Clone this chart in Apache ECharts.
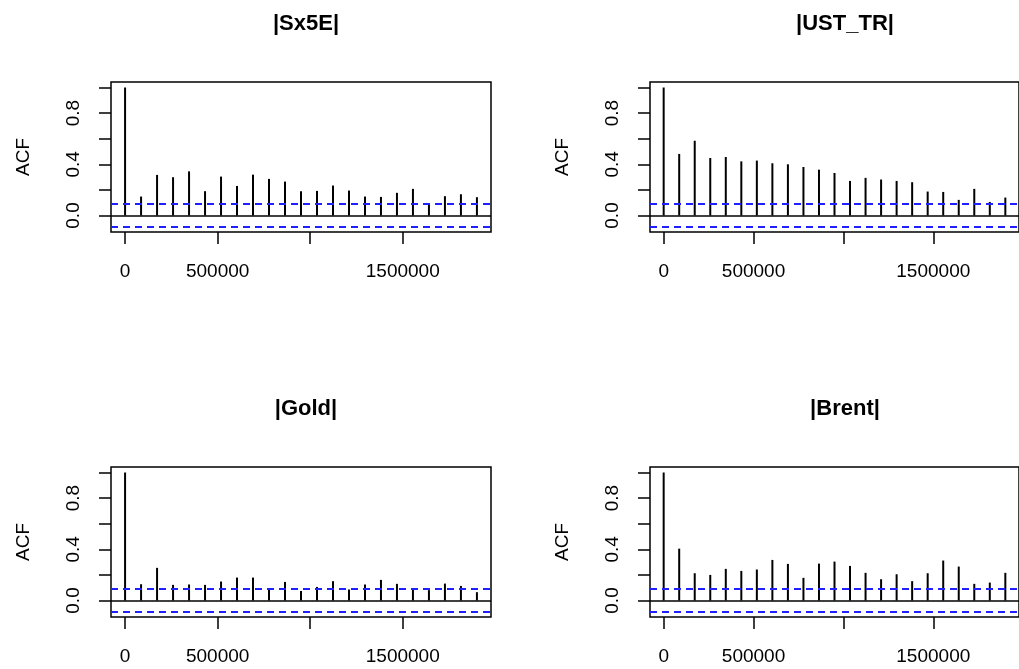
<!DOCTYPE html>
<html>
<head>
<meta charset="utf-8">
<script src="https://cdn.jsdelivr.net/npm/echarts@6/dist/echarts.min.js"></script>
<style>
  html, body { margin: 0; padding: 0; background: #fff; }
  #chart { width: 1019px; height: 669px; }
</style>
</head>
<body>
<div id="chart"></div>
<script>
// lags in seconds (one day = 86400)
const lags = [0, 86400, 172800, 259200, 345600, 432000, 518400, 604800, 691200, 777600,
  864000, 950400, 1036800, 1123200, 1209600, 1296000, 1382400, 1468800, 1555200, 1641600,
  1728000, 1814400, 1900800];

const acfSx5E = [1.0, 0.148, 0.317, 0.299, 0.345, 0.190, 0.304, 0.231, 0.319, 0.286,
  0.265, 0.190, 0.192, 0.234, 0.195, 0.148, 0.145, 0.177, 0.208, 0.091,
  0.151, 0.166, 0.143];
const acfUST = [1.0, 0.481, 0.584, 0.449, 0.457, 0.423, 0.429, 0.408, 0.400, 0.379,
  0.358, 0.332, 0.270, 0.294, 0.281, 0.270, 0.260, 0.187, 0.184, 0.122,
  0.208, 0.106, 0.140];
const acfGold = [1.0, 0.127, 0.255, 0.122, 0.125, 0.122, 0.148, 0.179, 0.179, 0.091,
  0.145, 0.075, 0.106, 0.151, 0.086, 0.125, 0.161, 0.130, 0.083, 0.081,
  0.132, 0.114, 0.065];
const acfBrent = [1.0, 0.405, 0.213, 0.200, 0.247, 0.231, 0.242, 0.317, 0.286, 0.177,
  0.288, 0.304, 0.270, 0.216, 0.166, 0.205, 0.151, 0.213, 0.312, 0.265,
  0.130, 0.140, 0.216];

const ciBound = 0.086;
const xTicks = [0, 500000, 1000000, 1500000];
const xLabels = [0, 500000, 1500000];
const yTicks = [0, 0.2, 0.4, 0.6, 0.8, 1.0];
const yLabels = [0, 0.4, 0.8];

const FONT = '"Liberation Sans", Arial, Helvetica, sans-serif';

const panels = [
  { name: '|Sx5E|', values: acfSx5E, left: 111, top: 82 },
  { name: '|UST_TR|', values: acfUST, left: 650, top: 82 },
  { name: '|Gold|', values: acfGold, left: 111, top: 467 },
  { name: '|Brent|', values: acfBrent, left: 650, top: 467 }
];

const option = {
  animation: false,
  backgroundColor: '#fff',
  title: [], grid: [], xAxis: [], yAxis: [], series: []
};

panels.forEach((p, i) => {
  const w = 380, h = 150;
  option.title.push({
    text: p.name,
    left: p.left + w / 2,
    top: p.top - 74,
    textAlign: 'center',
    textStyle: { fontFamily: FONT, fontSize: 22, fontWeight: 'bold', color: '#000' }
  });
  option.grid.push({
    left: p.left, top: p.top, width: w, height: h,
    show: true, borderColor: '#000', borderWidth: 1.5, backgroundColor: 'transparent'
  });
  option.xAxis.push({
    gridIndex: i, type: 'value',
    min: -76032, max: 1976832,
    axisLine: { show: false, onZero: false },
    splitLine: { show: false },
    axisTick: { show: true, length: 12, customValues: xTicks, lineStyle: { color: '#000', width: 1.5 } },
    axisLabel: {
      customValues: xLabels, margin: 30,
      fontFamily: FONT, fontSize: 19, color: '#000',
      formatter: v => String(v)
    }
  });
  option.yAxis.push({
    gridIndex: i, type: 'value',
    min: -0.129, max: 1.043,
    name: 'ACF', nameLocation: 'middle', nameRotate: 90, nameGap: 78,
    nameTextStyle: { fontFamily: FONT, fontSize: 19, color: '#000' },
    axisLine: { show: false, onZero: false },
    splitLine: { show: false },
    axisTick: { show: true, length: 12, customValues: yTicks, lineStyle: { color: '#000', width: 1.5 } },
    axisLabel: {
      customValues: yLabels, rotate: 90, margin: 28,
      fontFamily: FONT, fontSize: 19, color: '#000',
      formatter: v => v.toFixed(1)
    }
  });
  option.series.push({
    type: 'bar',
    xAxisIndex: i, yAxisIndex: i,
    barWidth: 2,
    itemStyle: { color: '#000' },
    data: lags.map((l, k) => [l, p.values[k]]),
    markLine: {
      silent: true, symbol: 'none', label: { show: false },
      data: [
        { yAxis: 0, lineStyle: { color: '#000', type: 'solid', width: 1.5 } },
        { yAxis: ciBound, lineStyle: { color: '#1f1fff', type: [7, 5], width: 2 } },
        { yAxis: -ciBound, lineStyle: { color: '#1f1fff', type: [7, 5], width: 2 } }
      ]
    }
  });
});

const chart = echarts.init(document.getElementById('chart'));
chart.setOption(option);
</script>
</body>
</html>
